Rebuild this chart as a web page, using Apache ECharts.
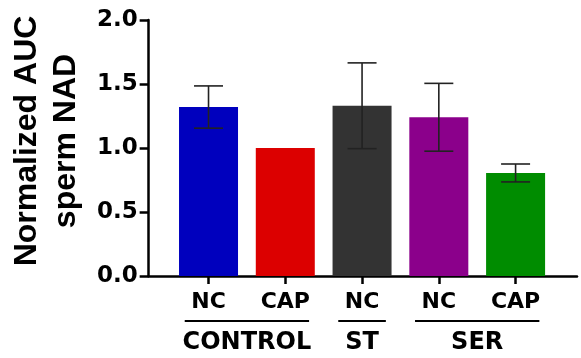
<!DOCTYPE html>
<html><head><meta charset="utf-8">
<script src="https://cdn.jsdelivr.net/npm/echarts@6/dist/echarts.min.js"></script>
<style>html,body{margin:0;padding:0;background:#fff}#c{width:581px;height:358px}</style>
</head><body><div id="c"></div>
<script>
const categories = ['NC', 'CAP', 'NC', 'NC', 'CAP'];
const means = [1.32, 1.00, 1.33, 1.24, 0.805];
const errors = [0.165, 0, 0.335, 0.265, 0.07];
const barColors = ['#0000BE', '#DC0000', '#333333', '#8B008B', '#008C00'];
const groupNames = ['CONTROL', 'ST', 'SER'];
const groupStart = [0, 2, 3];
const groupEnd = [1, 2, 4];
const yTickLabels = ['0.0', '0.5', '1.0', '1.5', '2.0'];
const yTitle = 'Normalized AUC\nsperm NAD';

const labelFont = 'DejaVu Sans';
const chart = echarts.init(document.getElementById('c'), null, {renderer: 'canvas'});
const idx = categories.map((_, i) => i);

chart.setOption({
  animation: false,
  backgroundColor: '#fff',
  grid: {left: 148, right: 4, top: 20, bottom: 82},
  xAxis: {
    type: 'value', min: -0.78, max: 4.8,
    splitLine: {show: false},
    axisLine: {show: true, onZero: false, lineStyle: {color: '#000', width: 2.5}},
    axisTick: {show: true, customValues: idx, length: 8, lineStyle: {color: '#000', width: 2.5}},
    axisLabel: {
      customValues: idx, margin: 15,
      formatter: v => categories[Math.round(v)],
      color: '#000', fontFamily: labelFont, fontWeight: 'bold', fontSize: 22, lineHeight: 22
    }
  },
  yAxis: {
    type: 'value', min: 0, max: 2, interval: 0.5,
    splitLine: {show: false},
    axisLine: {show: true, onZero: false, lineStyle: {color: '#000', width: 2.5}},
    axisTick: {show: true, length: 9, lineStyle: {color: '#000', width: 2.5}},
    axisLabel: {
      margin: 11, color: '#000', fontFamily: labelFont, fontWeight: 'bold', fontSize: 23,
      formatter: v => yTickLabels[Math.round(v / 0.5)]
    },
    name: yTitle, nameLocation: 'middle', nameRotate: 90, nameGap: 54,
    nameTextStyle: {color: '#000', fontFamily: 'Liberation Sans', fontWeight: 'bold', fontSize: 32, lineHeight: 39, padding: [0, 0, 0, 14]}
  },
  series: [
    {
      type: 'bar', barWidth: 59,
      data: means.map((m, i) => ({value: [i, m], itemStyle: {color: barColors[i]}})),
      silent: true
    },
    {
      type: 'custom', clip: false, silent: true, z: 5,
      data: means.map((m, i) => [i, m, errors[i]]),
      encode: {x: 0, y: 1},
      renderItem: (params, api) => {
        const x = api.value(0), m = api.value(1), e = api.value(2);
        if (!e) return null;
        const top = api.coord([x, m + e]);
        const bot = api.coord([x, m - e]);
        const hw = 14.5;
        const st = {stroke: '#222', lineWidth: 1.6};
        return {type: 'group', children: [
          {type: 'line', shape: {x1: top[0], y1: top[1], x2: bot[0], y2: bot[1]}, style: st},
          {type: 'line', shape: {x1: top[0] - hw, y1: top[1], x2: top[0] + hw, y2: top[1]}, style: st},
          {type: 'line', shape: {x1: bot[0] - hw, y1: bot[1], x2: bot[0] + hw, y2: bot[1]}, style: st}
        ]};
      }
    },
    {
      type: 'custom', clip: false, silent: true,
      data: groupNames.map((g, i) => [groupStart[i], groupEnd[i], i]),
      dimensions: ['s', 'e', 'g'],
      encode: {x: [0, 1]},
      renderItem: (params, api) => {
        const a = api.coord([api.value(0), 0]);
        const b = api.coord([api.value(1), 0]);
        const u = api.size([1, 0])[0];
        const x1 = a[0] - 0.31 * u, x2 = b[0] + 0.31 * u;
        const y = a[1] + 45;
        return {type: 'group', children: [
          {type: 'line', shape: {x1: x1, y1: y, x2: x2, y2: y}, style: {stroke: '#000', lineWidth: 2}},
          {type: 'text', x: (x1 + x2) / 2, y: a[1] + 67, style: {
            text: groupNames[api.value(2)], align: 'center', verticalAlign: 'middle',
            fill: '#000', fontFamily: labelFont, fontWeight: 'bold', fontSize: 24
          }}
        ]};
      }
    }
  ]
});
</script></body></html>
